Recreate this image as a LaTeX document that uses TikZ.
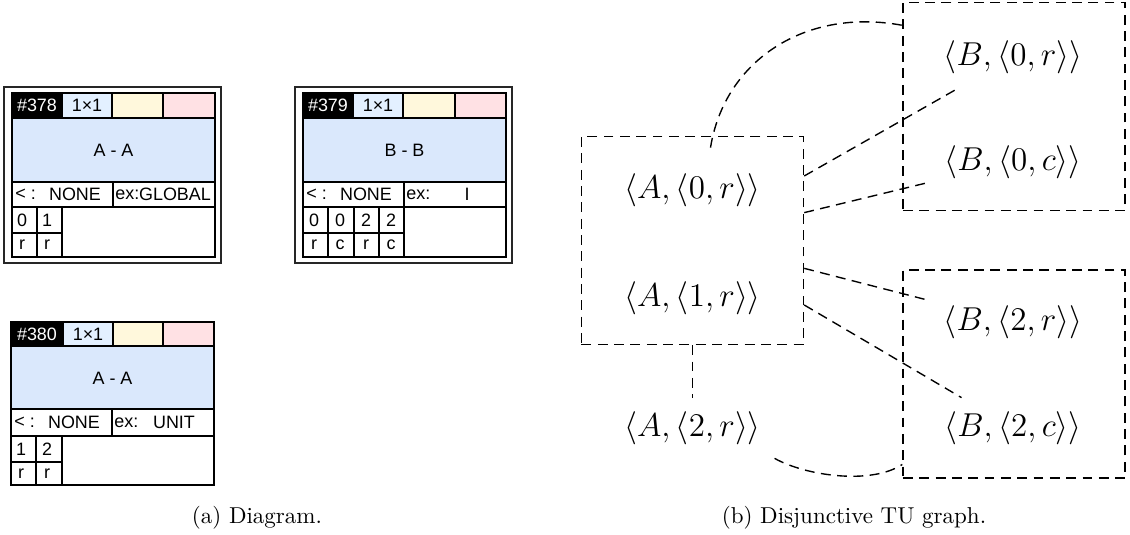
\documentclass[tikz,border=0pt]{standalone}
\usepackage{fontspec}
\newfontfamily\diafont{Liberation Sans}
\definecolor{hdblue}{HTML}{E3F0FF}
\definecolor{bodyblue}{HTML}{DAE8FC}
\definecolor{hdyellow}{HTML}{FFF8DC}
\definecolor{hdpink}{HTML}{FFE1E4}
\tikzset{
  dia/.style={font=\diafont\fontsize{7.8}{9}\selectfont,inner sep=0pt},
  rule/.style={draw=black,line width=0.55pt},
  border/.style={draw=black,line width=0.8pt},
  frame/.style={draw=black!85,line width=0.9pt},
  tu/.style={font=\fontsize{15.6}{18}\selectfont,inner sep=5.8pt},
  group/.style={draw,dash pattern=on 4.3pt off 2.8pt,line width=0.6pt,inner sep=0pt,
    minimum width=96.6pt,minimum height=90.5pt},
  link/.style={draw,dash pattern=on 4.3pt off 2.8pt,line width=0.6pt},
}
\begin{document}
\begin{tikzpicture}[x=0.435pt,y=0.435pt]
\useasboundingbox (0,0) rectangle (1130,535);
\begin{scope}[shift={(12,442)}] %378
  \draw[frame] (-8,6) rectangle (209,-170);
  \fill[black] (0,0) rectangle (50,-25);
  \fill[hdblue] (50,0) rectangle (100,-25);
  \fill[hdyellow] (100,0) rectangle (151,-25);
  \fill[hdpink] (151,0) rectangle (203,-25);
  \fill[bodyblue] (0,-25) rectangle (203,-89);
  \draw[rule] (50,0) -- (50,-25) (100,0) -- (100,-25) (151,0) -- (151,-25);
  \draw[rule] (0,-25) -- (203,-25) (0,-89) -- (203,-89) (0,-114) -- (203,-114);
  \draw[rule] (101,-89) -- (101,-114);
  \draw[rule] (25,-114) -- (25,-164) (50,-114) -- (50,-164) (0,-140) -- (50,-140);
  \draw[border] (0,0) rectangle (203,-164);
  \node[dia,text=white] (id378) at (25,-12.5) {\#378};
  \node[dia] (sz378) at (75,-12.5) {1×1};
  \node[dia] (name378) at (101.5,-57) {A - A};
  \node[dia,anchor=west] (lt378) at (3,-101.5) {< :};
  \node[dia] (ord378) at (63,-101.5) {NONE};
  \node[dia,anchor=west] (ex378) at (103,-101.5) {ex:};
  \node[dia] (exv378) at (163,-101.5) {GLOBAL};
  \node[dia] (a378) at (10,-127) {0};
  \node[dia] (b378) at (35,-127) {1};
  \node[dia] (c378) at (10,-152) {r};
  \node[dia] (d378) at (35,-152) {r};
\end{scope}
\begin{scope}[shift={(303,442)}] %379
  \draw[frame] (-8,6) rectangle (209,-170);
  \fill[black] (0,0) rectangle (50,-25);
  \fill[hdblue] (50,0) rectangle (100,-25);
  \fill[hdyellow] (100,0) rectangle (152,-25);
  \fill[hdpink] (152,0) rectangle (203,-25);
  \fill[bodyblue] (0,-25) rectangle (203,-89);
  \draw[rule] (50,0) -- (50,-25) (100,0) -- (100,-25) (152,0) -- (152,-25);
  \draw[rule] (0,-25) -- (203,-25) (0,-89) -- (203,-89) (0,-114) -- (203,-114);
  \draw[rule] (101,-89) -- (101,-164);
  \draw[rule] (25,-114) -- (25,-164) (51,-114) -- (51,-164) (76,-114) -- (76,-164)
    (0,-140) -- (101,-140);
  \draw[border] (0,0) rectangle (203,-164);
  \node[dia,text=white] (id379) at (25,-12.5) {\#379};
  \node[dia] (sz379) at (75,-12.5) {1×1};
  \node[dia] (name379) at (101.5,-57) {B - B};
  \node[dia,anchor=west] (lt379) at (3,-101.5) {< :};
  \node[dia] (ord379) at (63,-101.5) {NONE};
  \node[dia,anchor=west] (ex379) at (103,-101.5) {ex:};
  \node[dia] (exv379) at (164,-101.5) {I};
  \node[dia] (a379) at (11,-127) {0};
  \node[dia] (b379) at (37,-127) {0};
  \node[dia] (c379) at (63,-127) {2};
  \node[dia] (d379) at (88,-127) {2};
  \node[dia] (e379) at (11,-152) {r};
  \node[dia] (f379) at (37,-152) {c};
  \node[dia] (g379) at (63,-152) {r};
  \node[dia] (h379) at (88,-152) {c};
\end{scope}
\begin{scope}[shift={(11,213)}] %380
  \fill[black] (0,0) rectangle (52,-24);
  \fill[hdblue] (52,0) rectangle (102,-24);
  \fill[hdyellow] (102,0) rectangle (152,-24);
  \fill[hdpink] (152,0) rectangle (203,-24);
  \fill[bodyblue] (0,-24) rectangle (203,-87);
  \draw[rule] (52,0) -- (52,-24) (102,0) -- (102,-24) (152,0) -- (152,-24);
  \draw[rule] (0,-24) -- (203,-24) (0,-87) -- (203,-87) (0,-114) -- (203,-114);
  \draw[rule] (101,-87) -- (101,-114);
  \draw[rule] (25,-114) -- (25,-163) (51,-114) -- (51,-163) (0,-140) -- (51,-140);
  \draw[border] (0,0) rectangle (203,-163);
  \node[dia,text=white] (id380) at (26,-12) {\#380};
  \node[dia] (sz380) at (77,-12) {1×1};
  \node[dia] (name380) at (101.5,-56) {A - A};
  \node[dia,anchor=west] (lt380) at (3,-100.5) {< :};
  \node[dia] (ord380) at (63,-100.5) {NONE};
  \node[dia,anchor=west] (ex380) at (103,-100.5) {ex:};
  \node[dia] (exv380) at (163,-100.5) {UNIT};
  \node[dia] (a380) at (10,-127) {1};
  \node[dia] (b380) at (36,-127) {2};
  \node[dia] (c380) at (10,-152) {r};
  \node[dia] (d380) at (36,-152) {r};
\end{scope}
% TU graph
\node[group] (boxA) at (692.5,294.5) {};
\node[group] (boxB0) at (1014,428.5) {};
\node[group] (boxB2) at (1014,161) {};
\node[tu] (A0r) at (692.5,345) {$\langle A,\langle 0,r\rangle\rangle$};
\node[tu] (A1r) at (692.5,237) {$\langle A,\langle 1,r\rangle\rangle$};
\node[tu] (A2r) at (692.5,107) {$\langle A,\langle 2,r\rangle\rangle$};
\node[tu] (B0r) at (1013,478) {$\langle B,\langle 0,r\rangle\rangle$};
\node[tu] (B0c) at (1013,373) {$\langle B,\langle 0,c\rangle\rangle$};
\node[tu] (B2r) at (1013,213) {$\langle B,\langle 2,r\rangle\rangle$};
\node[tu] (B2c) at (1013,107) {$\langle B,\langle 2,c\rangle\rangle$};
\draw[link] (boxA.30.4) -- (B0r);
\draw[link] (boxA.14.3) -- (B0c);
\draw[link] (boxA.-14.3) -- (B2r);
\draw[link] (boxA.-30.4) -- (B2c);
\draw[link] (boxA) -- (A2r);
\draw[link] ([shift={(18,12)}]A0r.north) .. controls +(14,87) and +(-97,18) .. (boxB0.144.3);
\draw[link] (A2r.south east) .. controls +(30,-17) and +(-32,-21) .. (boxB2.219.6);
% captions
\node (capa) at (257,17) {(a) Diagram.};
\node (capb) at (854,17) {(b) Disjunctive TU graph.};
\end{tikzpicture}
\end{document}
